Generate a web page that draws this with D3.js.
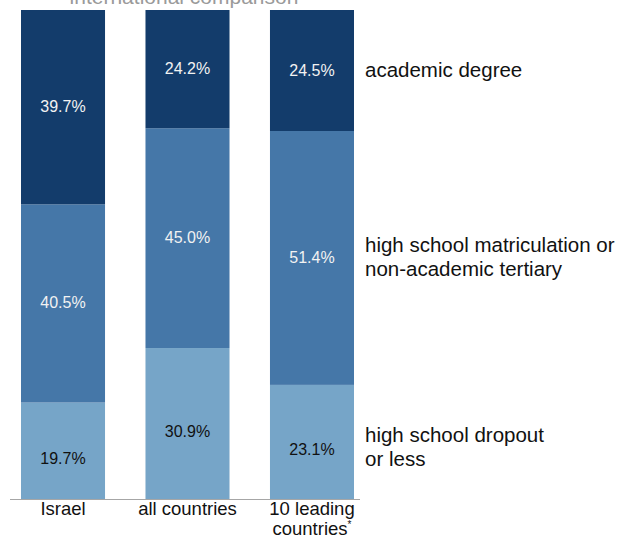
<!DOCTYPE html>
<html>
<head>
<meta charset="utf-8">
<script src="https://cdn.jsdelivr.net/npm/d3@7"></script>
<style>
  html, body { margin: 0; padding: 0; background: #fff; }
  svg { display: block; font-family: "Liberation Sans", Arial, Helvetica, sans-serif; }
</style>
</head>
<body>
<svg id="chart" width="638" height="538"></svg>
<script>
// Educational attainment shares, international comparison (percent)
const categories = ["Israel", "all countries", "10 leading countries"];
const levels = ["dropout", "matriculation", "academic"];
const levelLabels = [
  ["high school dropout", "or less"],
  ["high school matriculation or", "non-academic tertiary"],
  ["academic degree"]
];
const dropout = [19.7, 30.9, 23.1];
const matriculation = [40.5, 45.0, 51.4];
const academic = [39.7, 24.2, 24.5];
const levelColors = ["#76a5c8", "#4577a8", "#133c6b"];
const labelColors = ["#111", "#f2f2f2", "#f2f2f2"];
const title = "international comparison";

const rows = categories.map((c, i) => ({
  category: c,
  dropout: dropout[i],
  matriculation: matriculation[i],
  academic: academic[i]
}));

const svg = d3.select("#chart");
const plotTop = 10, plotBottom = 499;

const x = d3.scaleBand()
  .domain(categories)
  .range([21, 354])
  .paddingInner(0.325)
  .paddingOuter(0);

const y = d3.scaleLinear().domain([0, 1]).range([plotBottom, plotTop]);

// 100% stacked layout
const stack = d3.stack().keys(levels).offset(d3.stackOffsetExpand);
const series = stack(rows);

const layer = svg.selectAll("g.layer")
  .data(series)
  .join("g")
  .attr("class", "layer")
  .attr("fill", (d, i) => levelColors[i]);

layer.selectAll("rect")
  .data(d => d)
  .join("rect")
  .attr("x", d => x(d.data.category))
  .attr("width", x.bandwidth())
  .attr("y", d => y(d[1]))
  .attr("height", d => y(d[0]) - y(d[1]));

// value labels inside segments
series.forEach((s, li) => {
  const dy = li === 0 ? 13 : 5;
  svg.append("g")
    .selectAll("text")
    .data(s)
    .join("text")
    .attr("x", d => x(d.data.category) + x.bandwidth() / 2)
    .attr("y", d => (y(d[0]) + y(d[1])) / 2 + dy)
    .attr("text-anchor", "middle")
    .attr("font-size", 16)
    .attr("fill", labelColors[li])
    .text(d => d.data[s.key].toFixed(1) + "%");
});

// baseline axis
svg.append("line")
  .attr("x1", 10).attr("x2", 360)
  .attr("y1", plotBottom + 0.5).attr("y2", plotBottom + 0.5)
  .attr("stroke", "#a6a6a6")
  .attr("stroke-width", 1.2);

// category labels
const catText = svg.append("g")
  .selectAll("text")
  .data(categories)
  .join("text")
  .attr("text-anchor", "middle")
  .attr("font-size", 18.5)
  .attr("fill", "#111")
  .attr("transform", d => `translate(${x(d) + x.bandwidth() / 2},${plotBottom + 16})`);

catText.each(function (d) {
  const t = d3.select(this);
  if (d === "10 leading countries") {
    t.append("tspan").attr("x", 0).attr("dy", 0).text("10 leading");
    const t2 = t.append("tspan").attr("x", 0).attr("dy", 19.5).text("countries");
    t.append("tspan").attr("font-size", 10).attr("dy", -7).text("*");
  } else {
    t.text(d);
  }
});

// level labels to the right of the last bar
const last = categories[categories.length - 1];
const lastX = x(last) + x.bandwidth() + 11;
series.forEach((s, li) => {
  const seg = s[s.length - 1];
  const lines = levelLabels[li];
  const mid = (y(seg[0]) + y(seg[1])) / 2;
  const lh = 24;
  const first = mid - (lines.length - 1) * lh / 2 + (li === 0 ? 12 : 6);
  const t = svg.append("text")
    .attr("x", lastX)
    .attr("y", first)
    .attr("font-size", 20.5)
    .attr("fill", "#111");
  lines.forEach((ln, k) => {
    t.append("tspan").attr("x", lastX).attr("dy", k === 0 ? 0 : lh).text(ln);
  });
});

// title (partly above the visible area)
svg.append("text")
  .attr("x", 184)
  .attr("y", 4)
  .attr("text-anchor", "middle")
  .attr("font-size", 21)
  .attr("fill", "#9a9a9a")
  .text(title);
</script>
</body>
</html>
